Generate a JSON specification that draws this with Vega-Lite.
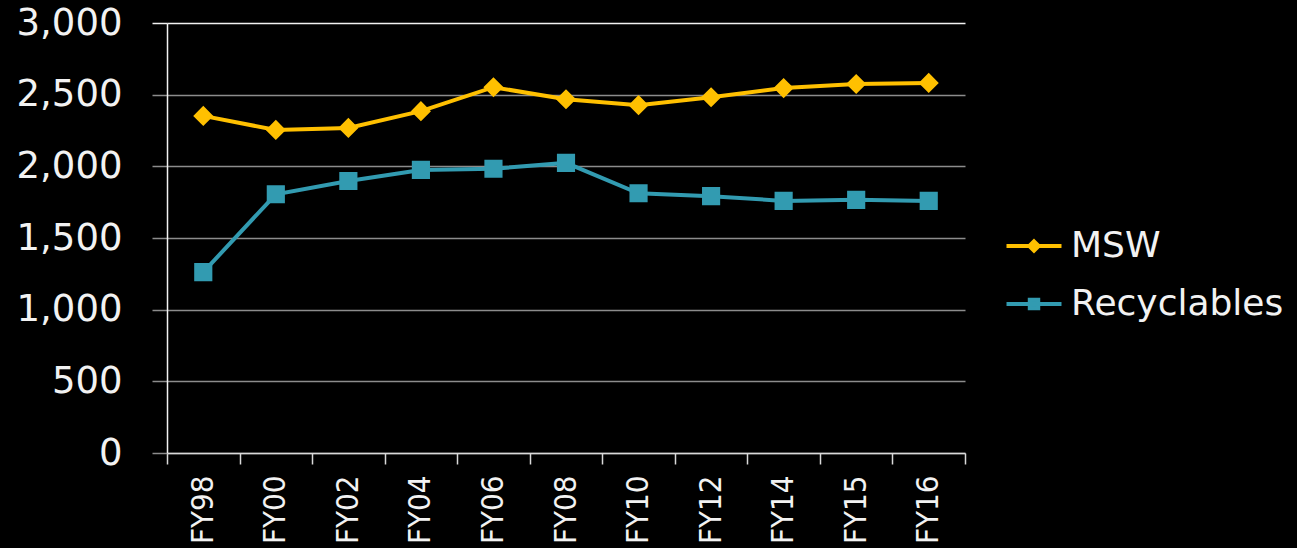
{
  "$schema": "https://vega.github.io/schema/vega-lite/v6.json",
  "width": 798,
  "height": 430,
  "autosize": "none",
  "padding": {"left": 167, "top": 23, "right": 332, "bottom": 95},
  "background": "#000000",
  "config": {
    "view": {"stroke": null},
    "axis": {"labelColor": "#F2F2F2", "domainColor": "#D9D9D9", "domainWidth": 1.5, "titleColor": "#F2F2F2"},
    "legend": {"padding": 0}
  },
  "data": {
    "values": [
      {"year": "FY98", "series": "MSW", "value": 2352},
      {"year": "FY00", "series": "MSW", "value": 2254},
      {"year": "FY02", "series": "MSW", "value": 2268},
      {"year": "FY04", "series": "MSW", "value": 2385},
      {"year": "FY06", "series": "MSW", "value": 2552},
      {"year": "FY08", "series": "MSW", "value": 2468},
      {"year": "FY10", "series": "MSW", "value": 2427},
      {"year": "FY12", "series": "MSW", "value": 2482},
      {"year": "FY14", "series": "MSW", "value": 2546},
      {"year": "FY15", "series": "MSW", "value": 2574},
      {"year": "FY16", "series": "MSW", "value": 2582},
      {"year": "FY98", "series": "Recyclables", "value": 1262},
      {"year": "FY00", "series": "Recyclables", "value": 1805},
      {"year": "FY02", "series": "Recyclables", "value": 1898},
      {"year": "FY04", "series": "Recyclables", "value": 1975},
      {"year": "FY06", "series": "Recyclables", "value": 1983},
      {"year": "FY08", "series": "Recyclables", "value": 2024},
      {"year": "FY10", "series": "Recyclables", "value": 1812},
      {"year": "FY12", "series": "Recyclables", "value": 1792},
      {"year": "FY14", "series": "Recyclables", "value": 1759},
      {"year": "FY15", "series": "Recyclables", "value": 1766},
      {"year": "FY16", "series": "Recyclables", "value": 1759}
    ]
  },
  "encoding": {
    "x": {
      "field": "year",
      "type": "nominal",
      "sort": null,
      "title": null,
      "scale": {"type": "band", "paddingInner": 0, "paddingOuter": 0},
      "axis": {
        "labelAngle": 270,
        "labelAlign": "right",
        "labelBaseline": "middle",
        "labelFont": "Liberation Sans Narrow, DejaVu Sans Condensed, sans-serif",
        "labelFontSize": 31,
        "labelPadding": 11,
        "labelLimit": 0,
        "tickBand": "extent",
        "tickSize": 11,
        "tickColor": "#D9D9D9",
        "tickWidth": 1.5,
        "grid": false,
        "labelOverlap": false
      }
    },
    "y": {
      "field": "value",
      "type": "quantitative",
      "title": null,
      "scale": {"domain": [0, 3000], "nice": false},
      "axis": {
        "values": [0, 500, 1000, 1500, 2000, 2500, 3000],
        "format": ",.0f",
        "labelFont": "DejaVu Sans",
        "labelFontSize": 37,
        "labelPadding": 30,
        "tickSize": 15,
        "tickColor": {"condition": {"test": "datum.value === 3000", "value": "#F2F2F2"}, "value": "#8C8C8C"},
        "tickWidth": 1.5,
        "grid": true,
        "gridColor": {"condition": {"test": "datum.value === 3000", "value": "#F2F2F2"}, "value": "#8C8C8C"},
        "gridWidth": 1.5,
        "domainColor": "#F2F2F2"
      }
    },
    "color": {
      "field": "series",
      "type": "nominal",
      "title": null,
      "scale": {"domain": ["MSW", "Recyclables"], "range": ["#FFC000", "#329BB1"]},
      "legend": {
        "orient": "none",
        "legendX": 849,
        "legendY": 205,
        "labelFont": "DejaVu Sans",
        "labelFontSize": 36,
        "labelColor": "#F2F2F2",
        "labelLimit": 0,
        "symbolSize": 169,
        "symbolStrokeWidth": 4,
        "labelOffset": 19,
        "rowPadding": 22,
        "symbolOpacity": 1,
        "encode": {
          "symbols": {
            "update": {
              "stroke": {"scale": "color", "field": "value"},
              "strokeWidth": {"value": 4}
            }
          }
        }
      }
    }
  },
  "layer": [
    {"mark": {"type": "line", "strokeWidth": 4}},
    {
      "mark": {"type": "point", "filled": true, "size": 780, "opacity": 1},
      "encoding": {
        "shape": {
          "field": "series",
          "type": "nominal",
          "title": null,
          "scale": {
            "domain": ["MSW", "Recyclables"],
            "range": [
              "M-4.23,0H4.23M0,-0.72L0.72,0L0,0.72L-0.72,0Z",
              "M-4.23,0H4.23M-0.65,-0.65H0.65V0.65H-0.65Z"
            ]
          },
          "legend": {
            "orient": "none",
            "legendX": 849,
            "legendY": 205,
            "labelFont": "DejaVu Sans",
            "labelFontSize": 36,
            "labelColor": "#F2F2F2",
            "labelLimit": 0,
            "symbolSize": 169,
            "symbolStrokeWidth": 4,
            "labelOffset": 19,
            "rowPadding": 22,
            "symbolOpacity": 1,
            "encode": {
              "symbols": {
                "update": {
                  "stroke": {"scale": "color", "field": "value"},
                  "strokeWidth": {"value": 4}
                }
              }
            }
          }
        }
      }
    }
  ]
}
